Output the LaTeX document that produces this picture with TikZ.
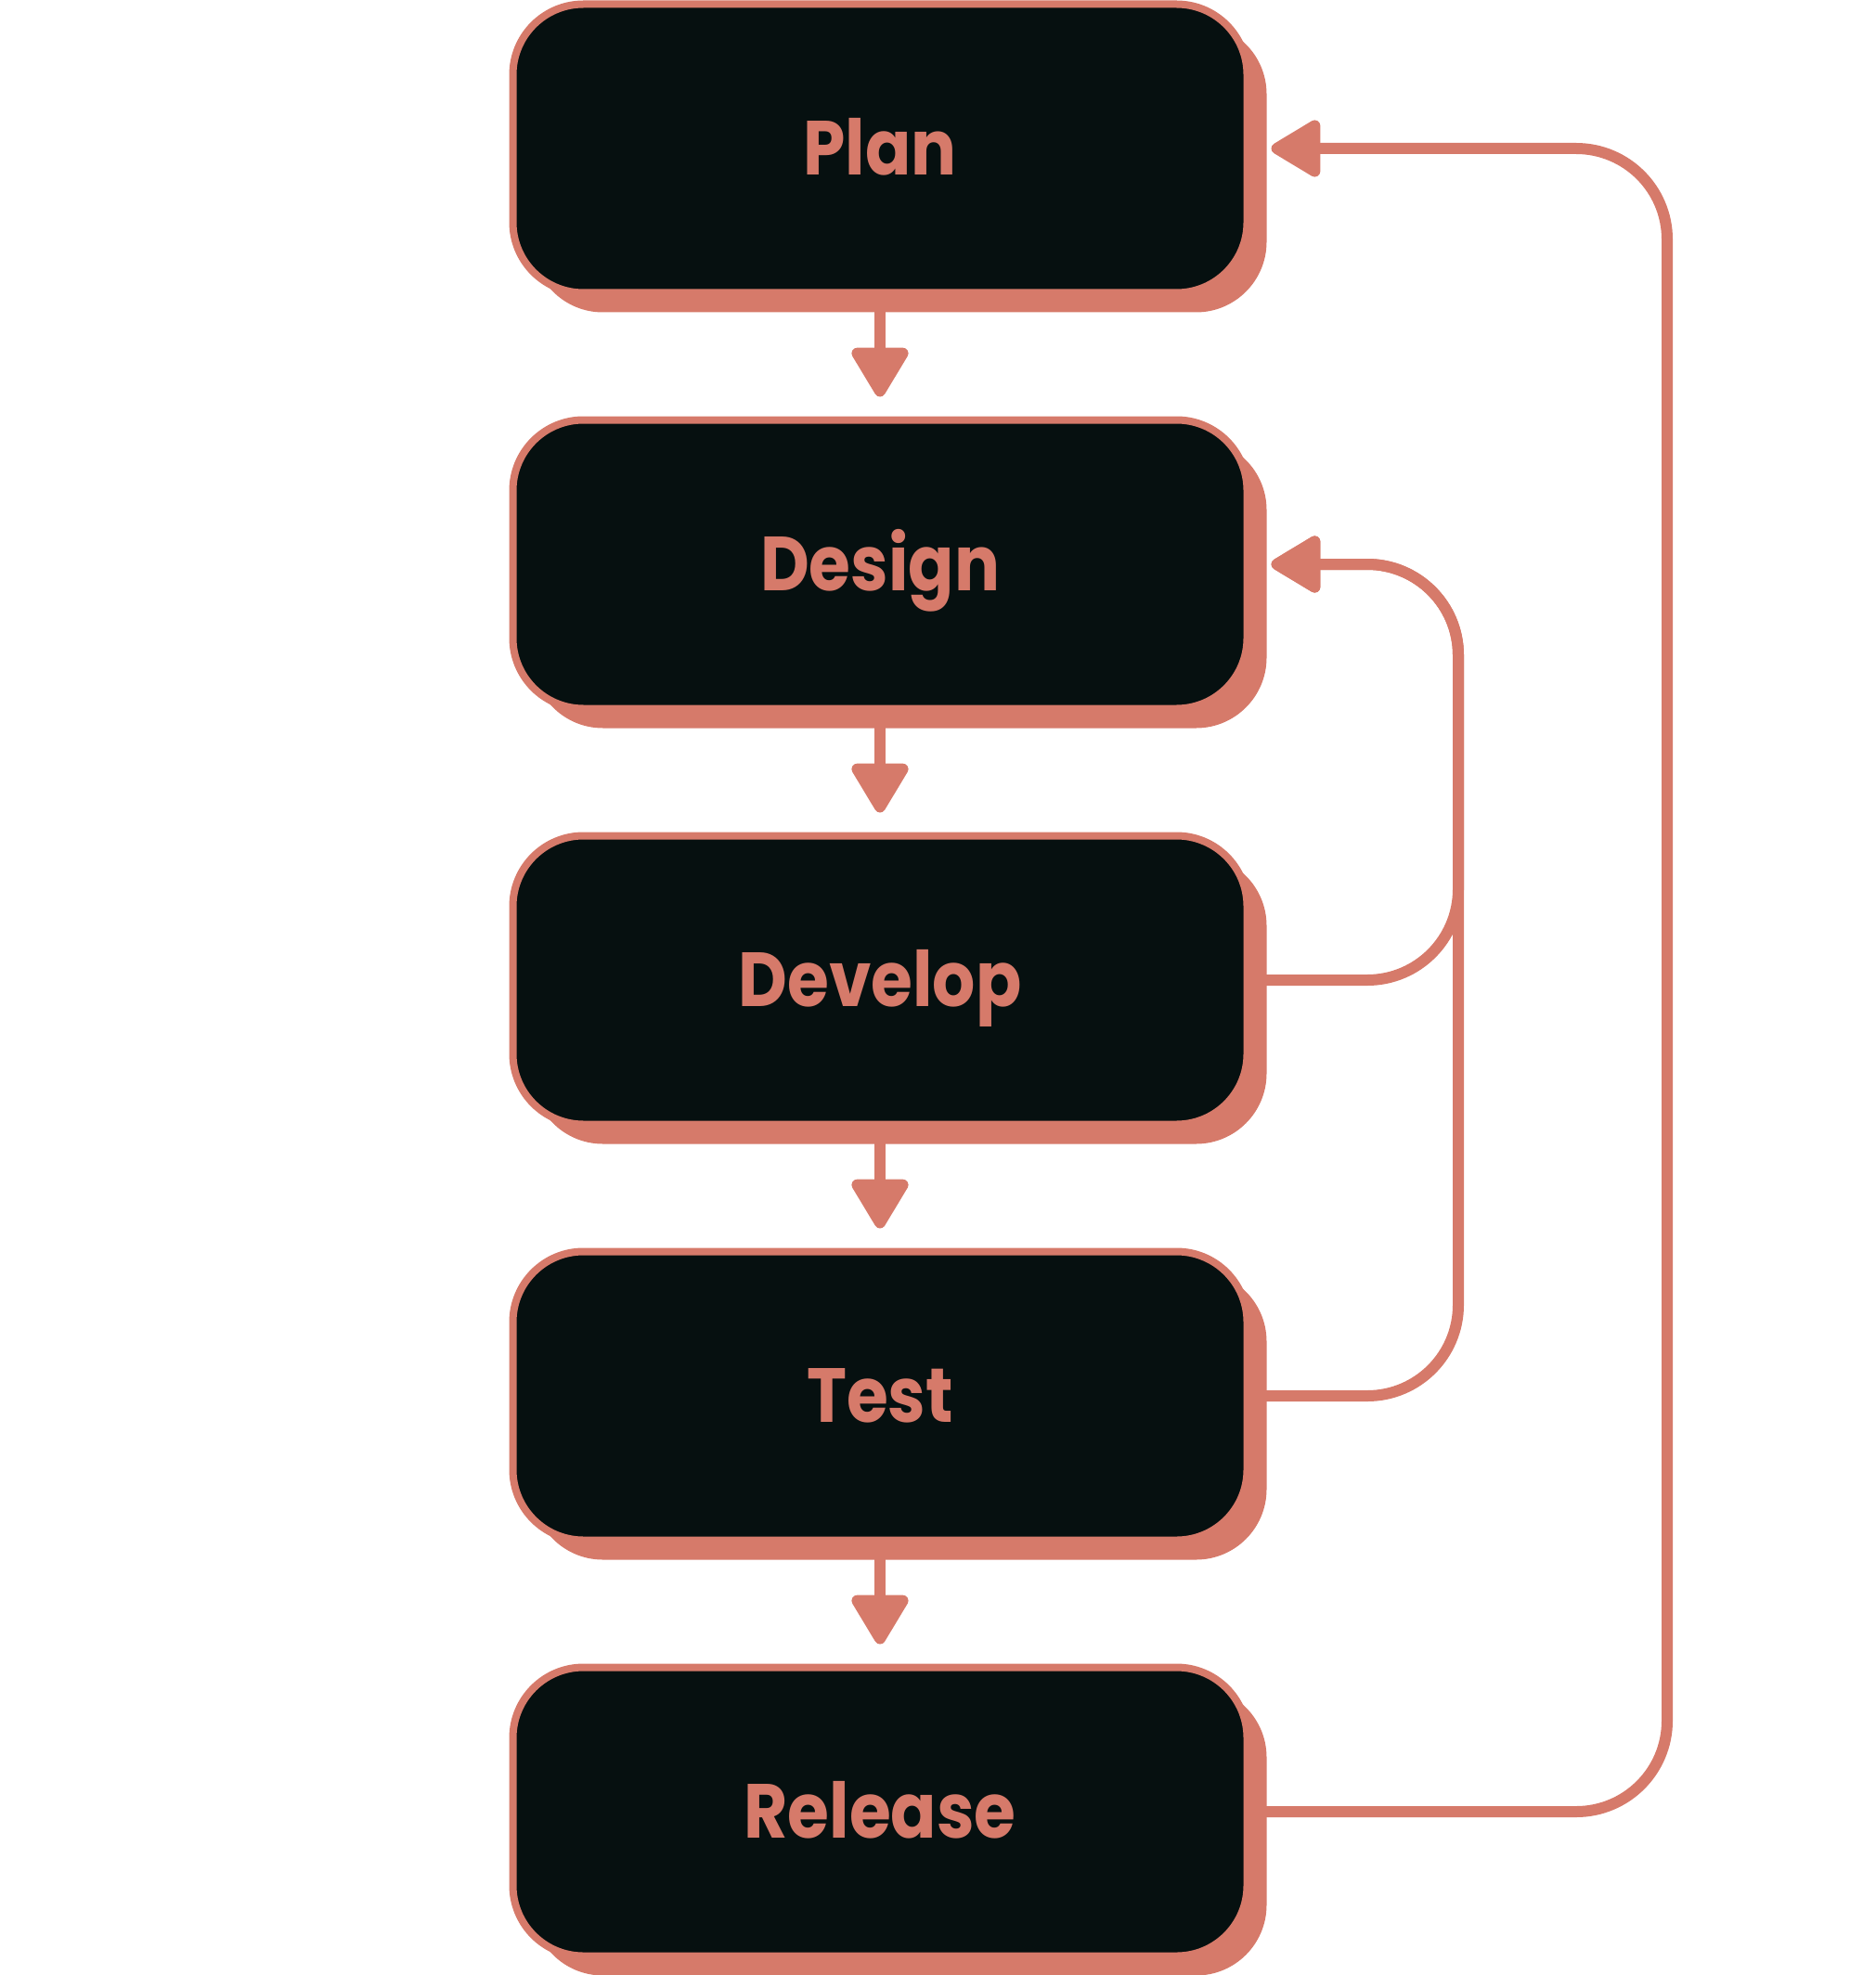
\documentclass[tikz,border=0pt]{standalone}
\usepackage{fontspec}
\setmainfont{Poppins}[FakeStretch=0.88]
\usetikzlibrary{arrows.meta}
\usetikzlibrary{positioning}
\usetikzlibrary{shadows}
\definecolor{msalmon}{RGB}{214, 122, 106}
\definecolor{mblack}{RGB}{6, 16, 16}
\tikzset{stage/.style = {draw=msalmon, fill=mblack, line width=0.8mm,
                         rounded corners=7.6mm,
                         minimum width=79.1mm, minimum height=31.1mm, inner sep=0pt,
                         text=msalmon, text height=16pt, text depth=0pt,
                         font=\bfseries\fontsize{23.5}{28}\selectfont,
                         drop shadow={shadow xshift=2.1mm, shadow yshift=-2.1mm,
                                      fill=msalmon, opacity=1}}}
\tikzset{flow/.style = {draw=msalmon, line width=1.2mm, shorten >=2.1mm,
                        -{Triangle[length=5.9mm, width=6.7mm, round]}}}
\tikzset{feedback/.style = {flow, rounded corners=9.8mm, shorten >=2.2mm}}

\begin{document}
\begin{tikzpicture}
    \useasboundingbox (0, 0) rectangle (20.2, -21.28);

    \node [stage] (plan) at (9.48, -1.6) {Plan};
    \node [stage] (design) at (9.48, -6.08) {Design};
    \node [stage] (develop) at (9.48, -10.56) {Develop};
    \node [stage] (test) at (9.48, -15.04) {Test};
    \node [stage] (release) at (9.48, -19.52) {Release};

    \draw [flow] (plan) -- (design);
    \draw [flow] (design) -- (develop);
    \draw [flow] (develop) -- (test);
    \draw [flow] (test) -- (release);

    % going back
    \draw [feedback] (develop.east) -| (15.71, -6.08) -- (design.east);
    \draw [feedback] (test.east) -| (15.71, -6.08) -- (design.east);
    \draw [feedback] (release.east) -| (17.96, -1.6) -- (plan.east);
  \end{tikzpicture}
\end{document}
